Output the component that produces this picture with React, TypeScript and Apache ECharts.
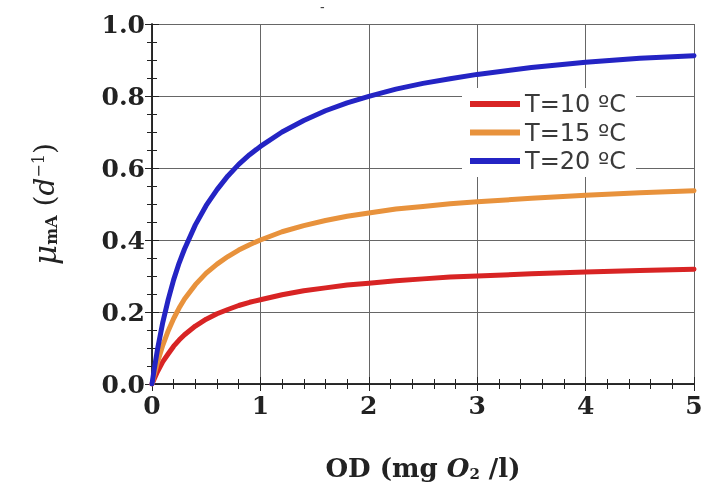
import React, { useEffect, useRef } from "react";
import * as echarts from "echarts";

const odValues = [0, 0.02, 0.05, 0.1, 0.15, 0.2, 0.25, 0.3, 0.4, 0.5, 0.6, 0.7, 0.8, 0.9, 1, 1.2, 1.4, 1.6, 1.8, 2, 2.25, 2.5, 2.75, 3, 3.5, 4, 4.5, 5];
const mu10 = [0, 0.014, 0.034, 0.062, 0.084, 0.105, 0.122, 0.137, 0.161, 0.18, 0.195, 0.207, 0.218, 0.227, 0.234, 0.248, 0.259, 0.267, 0.275, 0.28, 0.287, 0.292, 0.297, 0.3, 0.306, 0.311, 0.315, 0.319];
const mu15 = [0, 0.025, 0.06, 0.108, 0.148, 0.182, 0.211, 0.236, 0.276, 0.308, 0.333, 0.354, 0.372, 0.387, 0.4, 0.423, 0.44, 0.454, 0.466, 0.475, 0.486, 0.493, 0.501, 0.506, 0.516, 0.524, 0.531, 0.537];
const mu20 = [0, 0.04, 0.095, 0.172, 0.235, 0.29, 0.336, 0.375, 0.442, 0.496, 0.54, 0.578, 0.61, 0.637, 0.66, 0.7, 0.732, 0.759, 0.781, 0.799, 0.819, 0.835, 0.848, 0.86, 0.879, 0.894, 0.905, 0.912];
const seriesNames = ["T=10 ºC", "T=15 ºC", "T=20 ºC"];
const seriesColors = ["#d82424", "#e8923c", "#2424c4"];
const xTicks = [0, 1, 2, 3, 4, 5];
const yTicks = [0, 0.2, 0.4, 0.6, 0.8, 1.0];

const serif = "DejaVu Serif";

export default function App() {
  const ref = useRef<HTMLDivElement>(null);
  useEffect(() => {
    if (!ref.current) return;
    const chart = echarts.init(ref.current, null, { renderer: "svg" });
    const pairs = (ys: number[]) => odValues.map((x, i) => [x, ys[i]]);
    const frameLine = { show: true, lineStyle: { color: "#222", width: 1.5 } };
    const tick = { show: true, inside: true, length: 7, lineStyle: { color: "#222", width: 1 } };
    const minorX = { show: true, splitNumber: 5, length: 5, lineStyle: { color: "#222", width: 1 } };
    const minorY = { show: true, splitNumber: 4, length: 5, lineStyle: { color: "#222", width: 1 } };
    chart.setOption({
      animation: false,
      grid: { left: 152, right: 13, top: 24, bottom: 103, containLabel: false },
      xAxis: [
        {
          type: "value",
          min: xTicks[0],
          max: xTicks[xTicks.length - 1],
          interval: 1,
          position: "bottom",
          axisLine: frameLine,
          axisTick: tick,
          minorTick: minorX,
          splitLine: { show: true, lineStyle: { color: "#666", width: 1 } },
          axisLabel: {
            margin: 9,
            fontFamily: serif,
            fontWeight: "bold",
            fontSize: 25,
            color: "#222",
          },
          name: "{b|OD (mg }{i|O}{s|2}{b| /l)}",
          nameLocation: "middle",
          nameGap: 70,
          nameTextStyle: {
            rich: {
              b: { fontFamily: serif, fontWeight: "bold", fontSize: 26, color: "#222" },
              i: { fontFamily: serif, fontWeight: "bold", fontStyle: "italic", fontSize: 26, color: "#222" },
              s: { fontFamily: serif, fontWeight: "bold", fontSize: 15, color: "#222", padding: [12, 0, 0, 0] },
            },
          },
        },
        {
          type: "value",
          min: xTicks[0],
          max: xTicks[xTicks.length - 1],
          interval: 1,
          position: "top",
          axisLine: frameLine,
          axisTick: tick,
          minorTick: minorX,
          splitLine: { show: false },
          axisLabel: { show: false },
        },
      ],
      yAxis: [
        {
          type: "value",
          min: yTicks[0],
          max: yTicks[yTicks.length - 1],
          interval: 0.2,
          position: "left",
          axisLine: frameLine,
          axisTick: tick,
          minorTick: minorY,
          splitLine: { show: true, lineStyle: { color: "#666", width: 1 } },
          axisLabel: {
            margin: 7,
            fontFamily: serif,
            fontWeight: "bold",
            fontSize: 25,
            color: "#222",
            formatter: (v: number) => v.toFixed(1),
          },
          name: "{mu|μ}{sub|mA}{n| (}{it|d}{sup|−1}{n|)}",
          nameLocation: "middle",
          nameRotate: 90,
          nameGap: 92,
          nameTextStyle: {
            rich: {
              mu: { fontFamily: serif, fontStyle: "italic", fontSize: 31, color: "#222" },
              sub: { fontFamily: serif, fontWeight: "bold", fontSize: 16, color: "#222", padding: [13, 0, 0, 0] },
              n: { fontFamily: serif, fontSize: 28, color: "#222" },
              it: { fontFamily: serif, fontStyle: "italic", fontSize: 28, color: "#222" },
              sup: { fontFamily: serif, fontSize: 16, color: "#222", padding: [0, 0, 13, 0] },
            },
          },
        },
        {
          type: "value",
          min: yTicks[0],
          max: yTicks[yTicks.length - 1],
          interval: 0.2,
          position: "right",
          axisLine: frameLine,
          axisTick: tick,
          minorTick: minorY,
          splitLine: { show: false },
          axisLabel: { show: false },
        },
      ],
      legend: {
        data: seriesNames,
        orient: "vertical",
        left: 462,
        top: 88,
        icon: "rect",
        itemWidth: 50,
        itemHeight: 6,
        itemGap: 4.5,
        padding: [4, 10, 4, 8],
        backgroundColor: "#fff",
        textStyle: { fontFamily: "DejaVu Sans", fontSize: 24, color: "#3a3a3a", lineHeight: 24 },
      },
      graphic: [
        { type: "text", left: 320, top: 0, style: { text: "-", fontSize: 14, fill: "#444" } },
      ],
      series: [mu10, mu15, mu20].map((ys, i) => ({
        name: seriesNames[i],
        type: "line",
        xAxisIndex: 0,
        yAxisIndex: 0,
        data: pairs(ys),
        smooth: false,
        showSymbol: false,
        symbol: "none",
        color: seriesColors[i],
        lineStyle: { color: seriesColors[i], width: 5, join: "round", cap: "round" },
      })),
    });
    return () => chart.dispose();
  }, []);
  return <div ref={ref} style={{ position: "fixed", left: 0, top: 0, width: 707, height: 487 }} />;
}
